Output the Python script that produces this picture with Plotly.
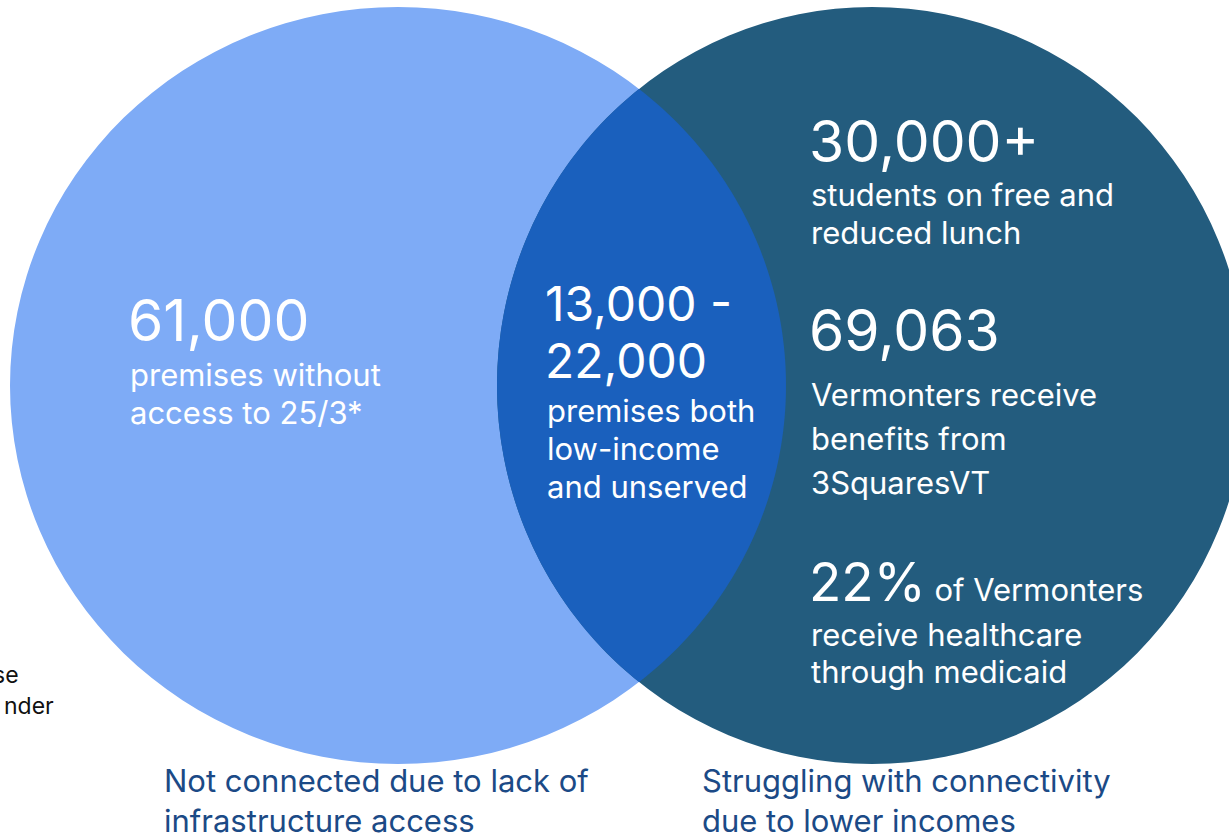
import plotly.graph_objects as go
import numpy as np

# ---- content ----
set_labels = ["Not connected due to lack of<br>infrastructure access",
              "Struggling with connectivity<br>due to lower incomes"]
left_value = "61,000"
left_desc = ["premises without", "access to 25/3*"]
overlap_value = ["13,000 -", "22,000"]
overlap_desc = ["premises both", "low-income", "and unserved"]
right_stats = ["30,000+", "69,063", "22%"]
right_descs = [["students on free and", "reduced lunch"],
               ["Vermonters receive", "benefits from", "3SquaresVT"],
               ["receive healthcare", "through medicaid"]]
right_inline = " of Vermonters"
cut_text = ["se", "nder"]

W, H = 1229, 835
FONT = "Inter, Noto Sans, sans-serif"
C_LEFT = "#7eabf6"
C_RIGHT = "#235c7e"
C_MID = "#1a60bd"
C_LABEL = "#1b4a86"

fig = go.Figure()
fig.add_trace(go.Scatter(x=[0, W], y=[0, H], mode="markers",
                         marker=dict(opacity=0), hoverinfo="skip", showlegend=False))

cy, ry = 385.5, 378.5
cx1, rx1 = 398, 388
cx2, rx2 = 872, 375
shapes = [
    dict(type="circle", xref="x", yref="y", x0=cx1 - rx1, x1=cx1 + rx1,
         y0=cy - ry, y1=cy + ry, fillcolor=C_LEFT, line=dict(width=0), layer="below"),
    dict(type="circle", xref="x", yref="y", x0=cx2 - rx2, x1=cx2 + rx2,
         y0=cy - ry, y1=cy + ry, fillcolor=C_RIGHT, line=dict(width=0), layer="below"),
]
# intersection lens
xm = (cx1 * rx2 + cx2 * rx1) / (rx1 + rx2)
t1 = np.arccos((xm - cx1) / rx1)
ts = np.linspace(-t1, t1, 120)
pts = [(cx1 + rx1 * np.cos(t), cy + ry * np.sin(t)) for t in ts]
pts += [(cx2 - rx2 * np.cos(t), cy + ry * np.sin(t)) for t in ts[::-1]]
path = "M " + " L ".join(f"{x:.2f},{y:.2f}" for x, y in pts) + " Z"
shapes.append(dict(type="path", xref="x", yref="y", path=path,
                   fillcolor=C_MID, line=dict(width=0), layer="below"))

ann = []
def txt(x, y, s, size, color="white", anchor="left"):
    ann.append(dict(x=x, y=y, xref="x", yref="y", text=s, showarrow=False,
                    xanchor=anchor, yanchor="middle", align="left",
                    font=dict(family=FONT, size=size, color=color)))

BIG = 57
SMALL = 31

# left circle
txt(126, 320, left_value, BIG)
for i, s in enumerate(left_desc):
    txt(128, 374 + 38 * i, s, SMALL)

# overlap
for i, s in enumerate(overlap_value):
    txt(543, 303 + 57 * i, s, 48)
for i, s in enumerate(overlap_desc):
    txt(545, 410 + 38 * i, s, SMALL)

# right circle
txt(807, 141, right_stats[0], BIG)
for i, s in enumerate(right_descs[0]):
    txt(809, 194 + 38 * i, s, SMALL)
txt(807, 330, right_stats[1], BIG)
for i, s in enumerate(right_descs[1]):
    txt(809, 394 + 44 * i, s, SMALL)
ann.append(dict(x=807, y=582, xref="x", yref="y", showarrow=False,
                xanchor="left", yanchor="middle", align="left",
                text=f"<span style='font-size:53px'>{right_stats[2]}</span>"
                     f"<span style='font-size:{SMALL}px'>{right_inline}</span>",
                font=dict(family=FONT, size=SMALL, color="white")))
for i, s in enumerate(right_descs[2]):
    txt(809, 634 + 37 * i, s, SMALL)

# bottom set labels
txt(162, 800, set_labels[0], 31, C_LABEL)
txt(700, 800, set_labels[1], 31, C_LABEL)

# cut-off text at left edge
txt(21, 675, cut_text[0], 23, "#111111", anchor="right")
txt(56, 706, cut_text[1], 23, "#111111", anchor="right")

fig.update_layout(
    width=W, height=H, margin=dict(l=0, r=0, t=0, b=0),
    paper_bgcolor="white", plot_bgcolor="white",
    xaxis=dict(range=[0, W], visible=False, fixedrange=True),
    yaxis=dict(range=[H, 0], visible=False, fixedrange=True),
    shapes=shapes, annotations=ann, showlegend=False,
)
fig.write_html("out.html", config={"displayModeBar": False},
               post_script="document.body.style.margin='0';document.body.style.padding='0';"
                           "document.body.style.overflow='hidden';")
